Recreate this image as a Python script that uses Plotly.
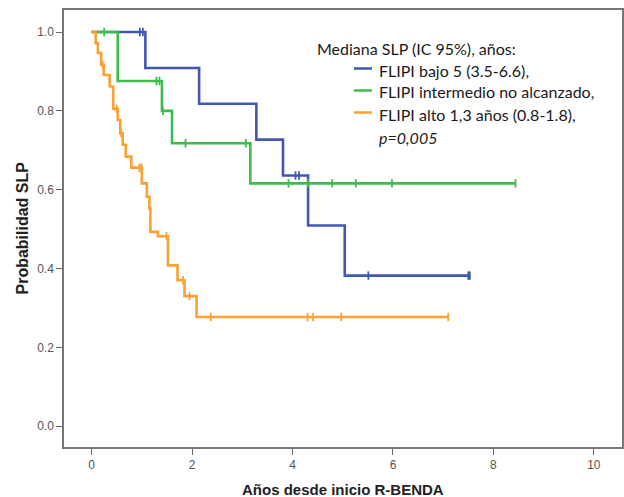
import plotly.graph_objects as go

# ---------------- data ----------------
# Kaplan-Meier step functions: event times and survival after each event
blue_times = [0.0, 1.07, 2.14, 3.28, 3.81, 4.31, 5.04]
blue_surv = [1.0, 0.909, 0.818, 0.727, 0.636, 0.509, 0.382]
blue_end = 7.53
blue_censor = [0.96, 1.02, 4.06, 4.13, 5.51, 7.50, 7.53]

green_times = [0.0, 0.52, 1.40, 1.60, 3.16]
green_surv = [1.0, 0.876, 0.800, 0.718, 0.616]
green_end = 8.44
green_censor = [0.25, 1.29, 1.35, 1.42, 1.87, 3.07, 3.92, 4.31, 4.79, 5.26, 5.98, 8.44]

orange_times = [0.0, 0.08, 0.125, 0.19, 0.24, 0.36, 0.43, 0.52, 0.57, 0.62, 0.68,
                0.79, 1.00, 1.10, 1.15, 1.17, 1.32, 1.52, 1.71, 1.85, 2.09]
orange_surv = [1.0, 0.972, 0.947, 0.917, 0.891, 0.862, 0.805, 0.777, 0.743, 0.714, 0.684,
               0.656, 0.616, 0.582, 0.552, 0.493, 0.482, 0.408, 0.370, 0.330, 0.277]
orange_end = 7.10
orange_censor = [0.22, 0.50, 0.59, 0.95, 0.99, 1.49, 1.82, 1.95, 2.37, 4.30, 4.41, 4.97, 7.10]

series_names = ["FLIPI bajo 5 (3.5-6.6),",
                "FLIPI intermedio no alcanzado,",
                "FLIPI alto 1,3 años (0.8-1.8),"]
colors = ["#4257B2", "#3DBD4B", "#F9A133"]
legend_header = "Mediana SLP (IC 95%), años:"
p_text = "<i>p=0,005</i>"

x_ticks = [0, 2, 4, 6, 8, 10]
y_ticks = [0.0, 0.2, 0.4, 0.6, 0.8, 1.0]
x_title = "Años desde inicio R-BENDA"
y_title = "Probabilidad SLP"

# ---------------- figure ----------------
W, H = 624, 497
ML, MR, MT, MB = 64, 2, 10, 50
PW, PH = W - ML - MR, H - MT - MB


def px(xp):
    return (xp - ML) / PW


def py(yp):
    return (H - MB - yp) / PH


def surv_at(times, surv, t):
    s = surv[0]
    for ti, si in zip(times, surv):
        if ti <= t:
            s = si
    return s


fig = go.Figure()
groups = [
    (blue_times, blue_surv, blue_end, blue_censor),
    (green_times, green_surv, green_end, green_censor),
    (orange_times, orange_surv, orange_end, orange_censor),
]
for (times, surv, end, cens), name, col in zip(groups, series_names, colors):
    xs = list(times) + [end]
    ys = list(surv) + [surv[-1]]
    fig.add_trace(go.Scatter(x=xs, y=ys, mode="lines", line=dict(color=col, width=2.6, shape="hv"),
                             name=name, showlegend=False, hoverinfo="skip"))
    cy = [surv_at(times, surv, c) for c in cens]
    fig.add_trace(go.Scatter(x=cens, y=cy, mode="markers",
                             marker=dict(symbol="line-ns", size=6, line=dict(color=col, width=1.8)),
                             showlegend=False, hoverinfo="skip"))

# legend block drawn as annotations + line swatches
font_leg = dict(family="Lato, Carlito, Open Sans, sans-serif", size=16, color="#1a1a1a")
fig.add_annotation(x=px(315), y=py(48), xref="paper", yref="paper", text=legend_header,
                   showarrow=False, xanchor="left", yanchor="middle", font=font_leg)
row_y = [70, 92, 114]
for name, col, ry in zip(series_names, colors, row_y):
    fig.add_shape(type="line", xref="paper", yref="paper", x0=px(354), x1=px(372),
                  y0=py(ry - 1.5), y1=py(ry - 1.5), line=dict(color=col, width=2.5))
    fig.add_annotation(x=px(377), y=py(ry), xref="paper", yref="paper", text=name,
                       showarrow=False, xanchor="left", yanchor="middle", font=font_leg)
fig.add_annotation(x=px(377), y=py(137), xref="paper", yref="paper", text=p_text,
                   showarrow=False, xanchor="left", yanchor="middle", font=font_leg)

# axis titles
title_font = dict(family="Liberation Sans Narrow, Liberation Sans, Arial, sans-serif", size=16,
                  color="#222222")
fig.add_annotation(x=0, y=0.5, xref="paper", yref="paper", xshift=-42, text="<b>%s</b>" % y_title,
                   textangle=-90, showarrow=False, xanchor="center", yanchor="middle", font=title_font)
fig.add_annotation(x=0.5, y=0, xref="paper", yref="paper", yshift=-42, text="<b>%s</b>" % x_title,
                   showarrow=False, xanchor="center", yanchor="middle",
                   font=dict(title_font, size=15))

tick_font = dict(family="Liberation Sans Narrow, Liberation Sans, Arial, sans-serif", size=12,
                 color="#555555")
fig.update_xaxes(range=[-0.55, 10.56], tickvals=x_ticks, ticktext=[str(v) for v in x_ticks],
                 ticks="outside", ticklen=6, tickwidth=1.3, tickcolor="#666666",
                 showline=True, linecolor="#777777", linewidth=1.5, mirror=True,
                 showgrid=False, zeroline=False, tickfont=tick_font)
fig.update_yaxes(range=[-0.053, 1.056], tickvals=y_ticks, ticktext=["%.1f" % v for v in y_ticks],
                 ticks="outside", ticklen=6, tickwidth=1.3, tickcolor="#666666",
                 showline=True, linecolor="#777777", linewidth=1.5, mirror=True,
                 showgrid=False, zeroline=False, tickfont=tick_font)
fig.update_layout(width=W, height=H, margin=dict(l=ML, r=MR, t=MT, b=MB, autoexpand=False),
                  plot_bgcolor="white", paper_bgcolor="white", showlegend=False)

fig.write_html("out.html", config={"displayModeBar": False},
               post_script="document.body.style.margin='0px';")
